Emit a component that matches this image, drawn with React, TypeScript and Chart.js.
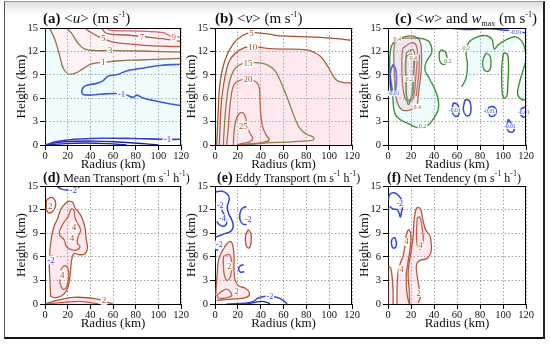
import React, { useEffect, useRef } from "react";
import { Chart, registerables } from "chart.js";
Chart.register(...registerables);

type Pt = [number, number];
type Lbl = [string, number, number];

// ---------------- DATA (radius km, height km) ----------------
const radiusTicks = [0, 20, 40, 60, 80, 100, 120];
const heightTicks = [0, 3, 6, 9, 12, 15];

// (a) <u>
const uPos1: Pt[] = [[4, 15], [8.8, 13.5], [13.2, 11.3], [16.2, 9.8], [20.6, 9.1], [26.5, 9.2], [33.8, 9.8], [41.2, 10.4], [51.5, 10.6], [66, 10.8], [83.8, 10.9], [101, 11], [120, 11.1]];
const uPos3: Pt[] = [[19, 15], [23.5, 14.3], [29.4, 13], [35.3, 12.3], [45.6, 12.1], [60.3, 12.1], [83.8, 12.05], [120, 11.9]];
const uPos5: Pt[] = [[35.3, 15], [39.7, 14.5], [48.5, 13.8], [60.3, 13.2], [77.9, 12.9], [95.5, 12.7], [120, 12.6]];
const uPos7: Pt[] = [[50, 15], [54.4, 14.3], [72, 14.1], [98.5, 13.7], [120, 13.3]];
const uPos9: Pt[] = [[55, 15], [57.3, 14.7], [83.8, 14.6], [104.4, 14.4], [110.3, 14], [120, 13.8]];
const uNeg1: Pt[] = [[120, 10.35], [101.4, 10.2], [83.8, 9.8], [72, 9.5], [63.2, 9.0], [55.9, 8.85], [51.4, 8.25], [45.6, 7.9], [38.2, 7.7], [33.8, 7.4], [32.9, 6.6], [37.3, 6.4], [48.5, 6.5], [61.7, 6.6], [72, 6.4], [77.9, 6.1], [80.9, 6.4], [85.3, 6.1], [95.5, 5.7], [107.3, 5.35], [120, 5.05]];
const uNegLow1: Pt[] = [[0, 0], [10.3, 0.43], [25, 0.73], [48.5, 0.86], [77.9, 0.83], [104.4, 0.73], [120, 0.73]];
const uNegLow3: Pt[] = [[0, 0], [10, 0.3], [25, 0.48], [45, 0.5], [65, 0.38], [85, 0.2], [100, 0]];
const uNegLow5: Pt[] = [[0, 0], [15, 0.15], [35, 0.25], [55, 0.18], [72, 0]];
const uLabelsWarm: Lbl[] = [["5", 51.4, 13.7], ["7", 85.3, 13.85]];
const uLabelsRed: Lbl[] = [["9", 113.7, 13.85]];
const uLabelsOlive: Lbl[] = [["3", 57.3, 12.2], ["1", 51.4, 10.6]];
const uLabelsBlue: Lbl[] = [["-1", 67.6, 6.55], ["-1", 108, 0.75]];

// (b) <v>
const vPos5: Pt[] = [[1.5, 0], [2.0, 1.5], [2.9, 4.5], [4.4, 7.9], [8.8, 10.9], [16.1, 13.0], [24.8, 14.1], [32.1, 14.4], [45.3, 14.25], [57, 14.0], [74.5, 13.9], [92, 13.8], [109.5, 13.6], [120, 13.4]];
const vPos10: Pt[] = [[3.8, 0], [4.4, 2.35], [5.8, 5.8], [8.8, 8.76], [13.1, 10.9], [21.9, 12.2], [30.7, 12.6], [45.3, 12.4], [57, 12.3], [74.5, 12.25], [83.2, 12.1], [92, 11.4], [97.8, 10.3], [102.2, 9.2], [106.6, 8.3], [112.4, 8.0], [120, 7.95]];
const vPos15: Pt[] = [[7.3, 0], [8.2, 2.35], [10.2, 5.8], [13.1, 8.3], [17.5, 9.8], [23.4, 10.4], [35, 10.55], [45.3, 10.3], [52.6, 9.5], [57, 8.3], [61.3, 6.8], [65.7, 5.1], [70.1, 3.4], [74.5, 2.1], [80.3, 1.37], [86.1, 1.0], [86.1, 0.64], [77.4, 0.5], [62.8, 0.38], [45.3, 0.26], [27.7, 0.04]];
const vPos20: Pt[] = [[10.2, 0], [11.7, 2.35], [13.7, 5.8], [16.6, 7.7], [21.9, 8.3], [29.2, 8.4], [35.9, 8.1], [38.8, 7.3], [39.4, 5.8], [40, 4.1], [41.7, 2.35], [44.7, 1.3], [47.6, 0.64], [42.3, 0.35], [30.7, 0.13], [19, 0]];
const vPos25: Pt[] = [[16.1, 0], [16.6, 1.5], [18.4, 3.2], [21.9, 4.1], [25.4, 4.0], [27.7, 3.0], [30, 1.7], [33, 0.85], [30.7, 0.43], [24.8, 0.21], [19.6, 0.08]];
const vLabelsBrown: Lbl[] = [["5", 32, 14.4], ["10", 33, 12.6], ["20", 29, 8.4], ["25", 24.8, 2.45]];
const vLabelsOlive: Lbl[] = [["15", 29, 10.5]];

// (c) <w> and w_max
const wTopNeg: Pt[] = [[13.1, 15], [33.5, 14.9], [56.8, 14.95], [68.4, 14.8], [85.9, 14.9], [103.4, 14.7], [119.4, 14.4]];
const wLeftNeg: Pt[] = [[4.4, 10.3], [6.7, 9.7], [7.3, 8.4], [6.7, 7.1], [5.3, 6.5], [3.2, 6.7], [2.0, 8.0], [2.3, 9.5]];
const wNegB1: Pt[] = [[56.8, 5.4], [60.3, 5.2], [62, 4.55], [61.2, 3.78], [58.3, 3.7], [55.6, 4.35]];
const wNegB2: Pt[] = [[66.9, 5.8], [70.6, 5.7], [72.1, 5.0], [71.3, 3.9], [67.8, 3.78], [65.5, 4.55]];
const wNegB3: Pt[] = [[87.4, 4.85], [91.8, 4.9], [94.1, 4.33], [91.8, 3.7], [88.3, 3.8]];
const wNegB4: Pt[] = [[104.8, 3.3], [107.7, 2.6], [109.8, 1.98], [107.7, 1.64], [104.8, 1.77], [103.3, 2.4]];
const wNegB5: Pt[] = [[120, 4.9], [115.7, 4.6], [114.8, 4.1], [117.1, 3.6], [120, 3.6]];
const wGreenLeft: Pt[] = [[2.9, 12.7], [7.3, 13.5], [18.9, 13.7], [30.6, 13.6], [36.4, 13.1], [37.9, 11.8], [33.5, 10.75], [32, 9.7], [36.4, 8.4], [40.8, 7.1], [43.7, 5.8], [43.7, 4.55], [39.3, 3.3], [33.5, 2.4], [26.2, 2.2], [18.9, 2.65], [10.2, 3.3], [5.8, 4.1], [4.4, 5.8], [3.8, 7.1], [2.0, 8.8], [1.5, 10.95], [2.3, 12.2]];
const wGreenInner: Pt[] = [[16, 11.4], [20.4, 11.6], [22.4, 10.5], [21.8, 8.8], [21.3, 7.1], [19.5, 5.6], [17.5, 5.2], [16, 6.25], [15.5, 8.4], [15.1, 10.3]];
const wGreenSmall: Pt[] = [[46.6, 12.24], [50.4, 11.81], [51, 10.75], [48, 10.32], [45.1, 10.75], [44.6, 11.81]];
const wGreenRight: Pt[] = [[64.1, 7.45], [67.9, 8.6], [69.1, 10.32], [67.9, 11.81], [70, 13.1], [75.8, 13.74], [84.5, 14.04], [90.4, 13.53], [92.4, 12.33], [96.2, 12.88], [103.5, 13.53], [110.8, 13.87], [117.2, 13.1], [120, 11.17], [117.2, 9.46], [114.3, 7.97], [112.8, 6.47], [116.6, 5.83], [120, 5.83]];
const wGreenR1: Pt[] = [[85.3, 11.81], [88.8, 11.38], [89.4, 10.1], [87.3, 9.46], [83.5, 9.67], [82.4, 10.75]];
const wGreenR2: Pt[] = [[100.4, 11.81], [103.9, 11.6], [104.8, 10.1], [104.2, 7.97], [103.3, 6.26], [100.4, 6.05], [99, 7.54], [99, 10.1]];
const wBrownOuter: Pt[] = [[5.9, 13.1], [11.7, 13.74], [21.9, 13.95], [27.7, 13.31], [29.1, 11.81], [29.1, 10.1], [27.7, 7.97], [26.2, 6.26], [24.8, 4.98], [18.9, 4.47], [11.7, 4.55], [7.3, 5.83], [5.9, 7.97], [5.3, 10.1], [5.0, 11.81]];
const wRedMid: Pt[] = [[13.1, 12.45], [20.4, 13.1], [24.8, 12.67], [25.4, 10.95], [24.2, 8.82], [23.3, 7.11], [21.3, 5.83], [17.5, 5.62], [14.6, 6.05], [12.6, 7.97], [12, 10.1], [12.3, 11.81]];
const wBrownInner: Pt[] = [[15.9, 11.81], [21.3, 12.24], [23.3, 11.6], [22.4, 9.25], [21.9, 6.9], [19.5, 5.83], [16.6, 5.92], [15.9, 7.97], [15.4, 10.1]];
const wRedLine: Pt[] = [[27.4, 11.6], [26.8, 9.25], [25.6, 7.54], [24.5, 6.26]];
const wLabelsBrown: Lbl[] = [["0.4", 8, 13.6], ["0.4", 25.4, 4.9], ["0.4", 22, 11.2]];
const wLabelsGreen: Lbl[] = [["0.2", 30, 2.4], ["0.2", 52, 10.8], ["0.2", 68, 12.4], ["0.2", 18.5, 8.5]];
const wLabelsBlue: Lbl[] = [["-0.01", 111, 14.5], ["-0.01", 5, 6.6], ["-0.01", 58, 4.5], ["-0.01", 88, 4.3], ["-0.01", 106, 2.4], ["-0.01", 118, 4.2]];

// (d) Mean Transport
const dTopNeg: Pt[] = [[10.3, 15], [14.7, 14.6], [22.1, 14.5], [29.4, 14.8], [30.9, 15]];
const dLeftNeg: Pt[] = [[7.35, 6.14], [4.4, 6.05], [3.2, 5.6], [4.4, 5.2], [7.35, 5.1]];
const dTopLoop: Pt[] = [[1.5, 13.25], [5.9, 13.55], [9.4, 12.9], [8.2, 12.07], [4.4, 11.56], [1.5, 11.99]];
const dMain: Pt[] = [[5.0, 0.97], [4.4, 3.09], [3.8, 4.78], [4.4, 6.9], [5.9, 8.6], [8.0, 9.86], [11, 10.8], [13.2, 11.77], [16.2, 12.5], [20.6, 13.04], [24.4, 12.9], [26.5, 12.2], [30.3, 11.56], [33.2, 10.7], [35.3, 9.65], [36.2, 8.4], [37.4, 7.1], [35.3, 6.4], [30.3, 6.26], [25.6, 6.4], [23.5, 5.6], [22.6, 4.36], [21.4, 2.87], [19.1, 1.73], [14.7, 1.05], [8.8, 0.8]];
const dUpper4: Pt[] = [[12.6, 9.23], [16.2, 10.29], [20.6, 11.14], [23, 12.07], [25.6, 11.9], [26.5, 10.93], [29.4, 10.08], [31.5, 9.36], [29.4, 8.6], [28.5, 7.76], [30.9, 7.25], [26.5, 6.83], [21.5, 7.0], [18.5, 7.42], [16.8, 8.18], [13.2, 8.69]];
const dLower4: Pt[] = [[14.7, 4.57], [17.6, 4.87], [20.6, 4.36], [20.6, 3.09], [18.5, 2.03], [15.6, 1.91], [13.2, 2.67], [13.2, 3.73]];
const dBottom2: Pt[] = [[0, 0], [10.3, 0.46], [25, 0.84], [39.7, 0.76], [48.5, 0.55], [54.4, 0.25], [60.3, 0]];
const dBottom4: Pt[] = [[0, 0], [16.2, 0.2], [30.9, 0.33], [42.6, 0.12], [47, 0]];
const dLabelsBrown: Lbl[] = [["2", 4.6, 12.5], ["4", 25.5, 9.8], ["4", 23.8, 8.4], ["4", 15.2, 3.7], ["2", 52, 0.45]];
const dLabelsBlue: Lbl[] = [["-2", 25, 14.5], ["-2", 5.4, 5.6]];

// (e) Eddy Transport
const eNegOuter: Pt[] = [[0.6, 14.23], [5.8, 14.36], [10.8, 13.97], [12.5, 13.34], [10.8, 12.4], [11.7, 11.56], [14.6, 10.72], [16, 9.87], [13.7, 9.23], [8.7, 8.94], [3.8, 8.68], [0.6, 8.51]];
const eNegInner: Pt[] = [[0.9, 12.83], [3.8, 12.62], [5.8, 11.98], [8.7, 11.14], [10.2, 10.29], [7.3, 9.87], [3.8, 10.08], [1.5, 10.5]];
const eNegSmallL: Pt[] = [[3.8, 7.66], [0.9, 7.4], [0.3, 6.98], [2.9, 6.81]];
const eNegC: Pt[] = [[27.7, 12.4], [24.2, 12.2], [21.9, 11.56], [21.9, 10.72], [24.2, 10.17], [27.7, 10.08]];
const eNegSmall: Pt[] = [[25.1, 5.0], [22.2, 4.87], [20.7, 4.44], [22.2, 4.06], [25.6, 4.1]];
const eNegBottom: Pt[] = [[10.2, 0], [27.7, 0.13], [33.5, 0.34], [37.9, 0.76], [45.2, 0.97], [53.9, 0.85], [59.7, 0.47], [63.2, 0]];
const eNegBottomIn: Pt[] = [[27.7, 0], [35, 0.21], [40.8, 0.34], [46.6, 0.13], [48.1, 0]];
const ePosLoop: Pt[] = [[29.1, 9.44], [31.5, 8.94], [31.5, 7.75], [29.7, 7.12], [27.4, 7.42], [26.8, 8.68]];
const ePosOuter: Pt[] = [[0.6, 0.97], [2, 3.94], [3.2, 5.64], [5.8, 6.56], [9.6, 7.5], [13.1, 7.96], [15.4, 7.54], [16.6, 6.06], [16.6, 4.36], [17.5, 3.09], [20.4, 2.33], [26.2, 2.03], [30, 1.48], [29.1, 0.97], [23.3, 0.72], [16, 0.64], [8.7, 0.55], [1.5, 0.47]];
const ePosInner: Pt[] = [[7.3, 6.06], [12.5, 6.27], [14.6, 5.21], [13.7, 3.52], [10.2, 3.0], [7.9, 3.94], [7.3, 5.21]];
const ePosLow: Pt[] = [[2, 1.18], [5.8, 1.6], [10.2, 1.9], [13.1, 1.6], [14.6, 1.06], [8.7, 0.76], [2.9, 0.76]];
const eLabelsBlue: Lbl[] = [["-2", 4.5, 12.5], ["-2", 3.8, 7.55], ["-2", 29.1, 10.8], ["-2", 48, 0.92], ["-4", 6.5, 10.9]];
const eLabelsBrown: Lbl[] = [["2", 12.5, 4.8], ["2", 19, 1.6]];

// (f) Net Tendency
const fNegTop: Pt[] = [[0.3, 13.25], [1.5, 13.92], [5.3, 14.13], [9.1, 13.8], [12, 13.17], [12.6, 12.4], [11.7, 11.64], [10.8, 11.05], [9.6, 11.56], [7.9, 11.99], [4.4, 12.07], [1.5, 12.4]];
const fNegSmall: Pt[] = [[5.9, 8.47], [3.6, 8.26], [3.0, 7.66], [4.4, 7.12], [6.7, 7.24], [7.3, 7.84]];
const fPosA: Pt[] = [[18.9, 0], [18.4, 1.82], [17.5, 3.94], [18.9, 5.64], [20.4, 6.9], [21.9, 8.6], [22.5, 10.29], [24.2, 11.98], [26.2, 12.28], [28.5, 11.98], [30.6, 10.5], [32.9, 9.36], [36.4, 8.69], [37.6, 7.54], [37, 6.4], [33.5, 5.77], [27.7, 5.55], [24.8, 5.0], [25.4, 3.52], [27.1, 2.03], [28.3, 0.97], [26.2, 0.13]];
const fPosB: Pt[] = [[25.4, 10.93], [27.7, 11.05], [29.4, 9.87], [30.6, 8.6], [30, 7.33], [27.7, 6.98], [25.4, 7.54], [24.8, 9.02]];
const fPosC: Pt[] = [[0.3, 4.78], [2.3, 4.57], [3.8, 3.09], [4.4, 1.4], [4.4, 0]];
const fPosD: Pt[] = [[7.9, 0], [7.9, 1.82], [8.7, 3.94], [10.8, 5.21], [13.1, 6.06], [14.6, 7.33], [16, 8.81], [17.8, 9.44], [19.5, 9.1], [19.8, 7.96], [18.9, 6.69], [17.5, 5.43], [16, 3.94], [16, 2.24], [16.9, 0.97], [18.4, 0]];
const fLabelsBlue: Lbl[] = [["-2", 10.2, 12.8]];
const fLabelsBrown: Lbl[] = [["4", 16, 7.9], ["4", 28.3, 7.5], ["4", 11.7, 4.4], ["2", 26.5, 1.4]];

// ---------------- STYLE / LAYOUT ----------------
const FONT = '"Liberation Serif", Tinos, "Times New Roman", "DejaVu Serif", serif';
const BROWN = "#a4522c";
const RED = "#d0382c";
const PINKRED = "#d25168";
const OLIVE = "#6e6e2c";
const GREEN = "#3f8a2e";
const BLUE = "#3442d8";
const NAVY = "#2424a8";
const PINK = "rgba(255,165,190,0.24)";
const PINK_A = "rgba(255,165,190,0.16)";
const CYAN = "rgba(140,232,245,0.16)";
const CYAN_A = "rgba(140,232,245,0.14)";

const Y_AXIS_W = 31;
const X_AXIS_H = 27;
const PAD_TOP = 8;
const PAD_RIGHT = 12;

type LineSpec = { pts: Pt[]; color: string; closed?: boolean; width?: number };
type FillSpec = { pts: Pt[]; color: string };
type LabelSpec = { items: Lbl[]; color: string; size: number };
type PanelSpec = {
  box: { left: number; top: number; width: number; height: number };
  lines: LineSpec[];
  fills: FillSpec[];
  labels: LabelSpec[];
};

const panelA: PanelSpec = {
  box: { left: 45, top: 28, width: 136, height: 117 },
  fills: [
    { pts: [...uPos1, [120, 15], [0, 15]], color: PINK_A },
    { pts: [[0, 1], [120, 1], ...[...uPos1].reverse(), [0, 15]], color: CYAN_A },
  ],
  lines: [
    { pts: uPos1, color: "#86652e" },
    { pts: uPos3, color: OLIVE },
    { pts: uPos5, color: BROWN },
    { pts: uPos7, color: BROWN },
    { pts: uPos9, color: PINKRED },
    { pts: uNeg1, color: BLUE, width: 1.6 },
    { pts: uNegLow1, color: BLUE, width: 1.6 },
    { pts: uNegLow3, color: NAVY, width: 1.4 },
    { pts: uNegLow5, color: NAVY, width: 1.4 },
  ],
  labels: [
    { items: uLabelsWarm, color: BROWN, size: 9 },
    { items: uLabelsRed, color: PINKRED, size: 9 },
    { items: uLabelsOlive, color: OLIVE, size: 9 },
    { items: uLabelsBlue, color: BLUE, size: 9 },
  ],
};

const panelB: PanelSpec = {
  box: { left: 215, top: 28, width: 137, height: 117 },
  fills: [{ pts: [...vPos10, [120, 0]], color: PINK }],
  lines: [
    { pts: vPos5, color: BROWN },
    { pts: vPos10, color: BROWN },
    { pts: vPos15, color: "#5f7a2c" },
    { pts: vPos20, color: BROWN },
    { pts: vPos25, color: BROWN },
  ],
  labels: [
    { items: vLabelsBrown, color: BROWN, size: 9 },
    { items: vLabelsOlive, color: "#5f7a2c", size: 9 },
  ],
};

const panelC: PanelSpec = {
  box: { left: 388, top: 28, width: 138, height: 117 },
  fills: [
    { pts: wGreenLeft, color: CYAN },
    { pts: [...wGreenRight, [120, 14], [64, 7.45]], color: CYAN },
    { pts: wBrownOuter, color: PINK },
  ],
  lines: [
    { pts: wTopNeg, color: BLUE, width: 1.5 },
    { pts: wLeftNeg, color: BLUE, closed: true, width: 1.6 },
    { pts: wNegB1, color: BLUE, closed: true, width: 1.5 },
    { pts: wNegB2, color: BLUE, closed: true, width: 1.5 },
    { pts: wNegB3, color: BLUE, closed: true, width: 1.5 },
    { pts: wNegB4, color: BLUE, closed: true, width: 1.5 },
    { pts: wNegB5, color: BLUE, width: 1.5 },
    { pts: wGreenLeft, color: GREEN, closed: true, width: 1.4 },
    { pts: wGreenInner, color: GREEN, closed: true, width: 1.4 },
    { pts: wGreenSmall, color: GREEN, closed: true, width: 1.4 },
    { pts: wGreenRight, color: GREEN, width: 1.4 },
    { pts: wGreenR1, color: GREEN, closed: true, width: 1.4 },
    { pts: wGreenR2, color: GREEN, closed: true, width: 1.4 },
    { pts: wBrownOuter, color: BROWN, closed: true },
    { pts: wRedMid, color: "#b8432e", closed: true },
    { pts: wBrownInner, color: "#8a5a2a", closed: true },
    { pts: wRedLine, color: RED },
  ],
  labels: [
    { items: wLabelsBrown, color: BROWN, size: 6 },
    { items: wLabelsGreen, color: GREEN, size: 6 },
    { items: wLabelsBlue, color: BLUE, size: 5.5 },
  ],
};

const panelD: PanelSpec = {
  box: { left: 45, top: 186, width: 136, height: 118 },
  fills: [
    { pts: dMain, color: PINK },
    { pts: dTopLoop, color: PINK },
    { pts: [...dBottom2], color: PINK },
  ],
  lines: [
    { pts: dTopNeg, color: BLUE, width: 1.5 },
    { pts: dLeftNeg, color: BLUE, width: 1.5 },
    { pts: dTopLoop, color: BROWN, closed: true },
    { pts: dMain, color: BROWN, closed: true },
    { pts: dUpper4, color: BROWN, closed: true },
    { pts: dLower4, color: BROWN, closed: true },
    { pts: dBottom2, color: BROWN },
    { pts: dBottom4, color: RED },
  ],
  labels: [
    { items: dLabelsBrown, color: BROWN, size: 9 },
    { items: dLabelsBlue, color: BLUE, size: 9 },
  ],
};

const panelE: PanelSpec = {
  box: { left: 215, top: 186, width: 137, height: 118 },
  fills: [
    { pts: ePosOuter, color: PINK },
    { pts: ePosLoop, color: PINK },
  ],
  lines: [
    { pts: eNegOuter, color: BLUE, width: 1.5 },
    { pts: eNegInner, color: BLUE, width: 1.5 },
    { pts: eNegSmallL, color: BLUE, width: 1.5 },
    { pts: eNegC, color: BLUE, width: 1.5 },
    { pts: eNegSmall, color: BLUE, width: 1.5 },
    { pts: eNegBottom, color: BLUE, width: 1.5 },
    { pts: eNegBottomIn, color: NAVY, width: 1.3 },
    { pts: ePosLoop, color: BROWN, closed: true },
    { pts: ePosOuter, color: BROWN },
    { pts: ePosInner, color: BROWN, closed: true },
    { pts: ePosLow, color: BROWN, closed: true },
  ],
  labels: [
    { items: eLabelsBlue, color: BLUE, size: 8 },
    { items: eLabelsBrown, color: BROWN, size: 8 },
  ],
};

const panelF: PanelSpec = {
  box: { left: 388, top: 186, width: 138, height: 118 },
  fills: [
    { pts: fPosA, color: PINK },
    { pts: fPosD, color: PINK },
    { pts: [...fPosC, [0, 0]], color: PINK },
  ],
  lines: [
    { pts: fNegTop, color: BLUE, width: 1.5 },
    { pts: fNegSmall, color: BLUE, closed: true, width: 1.5 },
    { pts: fPosA, color: BROWN },
    { pts: fPosB, color: BROWN, closed: true },
    { pts: fPosC, color: BROWN },
    { pts: fPosD, color: BROWN },
  ],
  labels: [
    { items: fLabelsBlue, color: BLUE, size: 8 },
    { items: fLabelsBrown, color: BROWN, size: 8 },
  ],
};

const PANELS = [panelA, panelB, panelC, panelD, panelE, panelF];

const toXY = (pts: Pt[]) => pts.map(([x, y]) => ({ x, y }));

function PanelChart({ spec }: { spec: PanelSpec }) {
  const ref = useRef<HTMLCanvasElement>(null);
  const { left, top, width, height } = spec.box;
  const cw = Y_AXIS_W + width + PAD_RIGHT;
  const ch = PAD_TOP + height + X_AXIS_H;

  useEffect(() => {
    const canvas = ref.current;
    if (!canvas) return;
    const datasets: any[] = [
      ...spec.fills.map((f) => ({
        data: toXY(f.pts),
        showLine: true,
        fill: "shape",
        backgroundColor: f.color,
        borderColor: "rgba(0,0,0,0)",
        borderWidth: 0,
        pointRadius: 0,
        tension: 0,
      })),
      ...spec.lines.map((l) => ({
        data: toXY(l.closed ? [...l.pts, l.pts[0]] : l.pts),
        showLine: true,
        fill: false,
        borderColor: l.color,
        borderWidth: l.width ?? 1.3,
        pointRadius: 0,
        tension: 0.4,
      })),
    ];

    const labelPlugin = {
      id: "contourLabels",
      afterDatasetsDraw(chart: any) {
        const { ctx, scales } = chart;
        ctx.save();
        for (const group of spec.labels) {
          ctx.font = `${group.size}px ${FONT}`;
          ctx.textAlign = "center";
          ctx.textBaseline = "middle";
          for (const [text, r, h] of group.items) {
            const px = scales.x.getPixelForValue(r);
            const py = scales.y.getPixelForValue(h);
            const w = ctx.measureText(text).width;
            ctx.fillStyle = "rgba(255,255,255,0.92)";
            ctx.fillRect(px - w / 2 - 1, py - group.size / 2, w + 2, group.size);
            ctx.fillStyle = group.color;
            ctx.fillText(text, px, py + 0.5);
          }
        }
        ctx.restore();
      },
    };
    const framePlugin = {
      id: "frameBox",
      afterDraw(chart: any) {
        const { ctx, chartArea: a } = chart;
        ctx.save();
        ctx.strokeStyle = "#000";
        ctx.lineWidth = 1;
        ctx.beginPath();
        ctx.moveTo(a.left, Math.round(a.top) + 0.5);
        ctx.lineTo(a.right, Math.round(a.top) + 0.5);
        ctx.moveTo(Math.round(a.right) - 0.5, a.top);
        ctx.lineTo(Math.round(a.right) - 0.5, a.bottom);
        ctx.stroke();
        ctx.restore();
      },
    };

    const tickFont = { family: FONT, size: 10.5 };
    const titleFont = { family: FONT, size: 13, lineHeight: 1.2 };
    const chart = new Chart(canvas, {
      type: "scatter",
      data: { datasets },
      options: {
        animation: false,
        responsive: false,
        maintainAspectRatio: false,
        events: [],
        layout: { padding: { top: PAD_TOP, right: PAD_RIGHT, left: 0, bottom: 0 } },
        plugins: { legend: { display: false }, tooltip: { enabled: false }, title: { display: false } },
        scales: {
          x: {
            type: "linear",
            min: 0,
            max: 120,
            afterBuildTicks: (s: any) => {
              s.ticks = radiusTicks.map((v) => ({ value: v }));
            },
            afterFit: (s: any) => {
              s.height = X_AXIS_H;
              s.paddingLeft = 0;
              s.paddingRight = 0;
            },
            ticks: { font: tickFont, color: "#111", padding: 0, maxRotation: 0, autoSkip: false },
            grid: { color: "#8a8a8a", lineWidth: 0.8, tickLength: 5, tickColor: "#000", tickWidth: 1 },
            border: { color: "#000", width: 1, dash: [1.5, 2] },
            title: { display: true, text: "Radius (km)", font: titleFont, color: "#111", padding: 0 },
          },
          y: {
            type: "linear",
            min: 0,
            max: 15,
            afterBuildTicks: (s: any) => {
              s.ticks = heightTicks.map((v) => ({ value: v }));
            },
            afterFit: (s: any) => {
              s.width = Y_AXIS_W;
              s.paddingTop = 0;
              s.paddingBottom = 0;
            },
            ticks: { font: tickFont, color: "#111", padding: 2, autoSkip: false },
            grid: { color: "#8a8a8a", lineWidth: 0.8, tickLength: 5, tickColor: "#000", tickWidth: 1 },
            border: { color: "#000", width: 1, dash: [1.5, 2] },
            title: { display: true, text: "Height (km)", font: titleFont, color: "#111", padding: 0 },
          },
        },
      } as any,
      plugins: [labelPlugin, framePlugin],
    });
    return () => chart.destroy();
  }, [spec]);

  return (
    <canvas
      ref={ref}
      width={cw}
      height={ch}
      style={{ position: "absolute", left: left - Y_AXIS_W, top: top - PAD_TOP, width: cw, height: ch }}
    />
  );
}

const supStyle: React.CSSProperties = { fontSize: 8, position: "relative", top: -6, lineHeight: 0 };
const subStyle: React.CSSProperties = { fontSize: 8, position: "relative", top: 3, lineHeight: 0 };

function Title({ x, y, label, size, labelSize, children }: { x: number; y: number; label: string; size: number; labelSize: number; children: React.ReactNode }) {
  return (
    <div style={{ position: "absolute", left: x, top: y, fontFamily: FONT, fontSize: size, lineHeight: "18px", whiteSpace: "nowrap", color: "#111" }}>
      <span style={{ fontWeight: "bold", fontSize: labelSize }}>{label}</span> {children}
    </div>
  );
}

export default function App() {
  return (
    <div style={{ position: "absolute", left: 0, top: 0, width: 550, height: 346, background: "#fff", overflow: "hidden" }}>
      <div
        style={{
          position: "absolute",
          left: 4,
          top: 1,
          width: 538,
          height: 335,
          borderTop: "1px solid #9a9a9a",
          borderLeft: "1px solid #555",
          borderRight: "2px solid #222",
          borderBottom: "2px solid #111",
          background: "linear-gradient(#dedede 0px, #f4f4f4 8px, #ffffff 14px)",
        }}
      />
      {PANELS.map((p, i) => (
        <PanelChart key={i} spec={p} />
      ))}
      <Title x={43} y={9} label="(a)" size={15} labelSize={15}>
        {"<"}<i>u</i>{">"} (m s<span style={supStyle}>-1</span>)
      </Title>
      <Title x={215} y={9} label="(b)" size={15} labelSize={15}>
        {"<"}<i>v</i>{">"} (m s<span style={supStyle}>-1</span>)
      </Title>
      <Title x={395} y={9} label="(c)" size={15} labelSize={15}>
        {"<"}<i>w</i>{">"} and <i>w</i><span style={subStyle}>max</span> (m s<span style={supStyle}>-1</span>)
      </Title>
      <Title x={43} y={169} label="(d)" size={12} labelSize={14}>
        Mean Transport (m s<span style={supStyle}>-1</span> h<span style={supStyle}>-1</span>)
      </Title>
      <Title x={217} y={169} label="(e)" size={12} labelSize={14}>
        Eddy Transport (m s<span style={supStyle}>-1</span> h<span style={supStyle}>-1</span>)
      </Title>
      <Title x={387} y={169} label="(f)" size={12} labelSize={14}>
        Net Tendency (m s<span style={supStyle}>-1</span> h<span style={supStyle}>-1</span>)
      </Title>
    </div>
  );
}
